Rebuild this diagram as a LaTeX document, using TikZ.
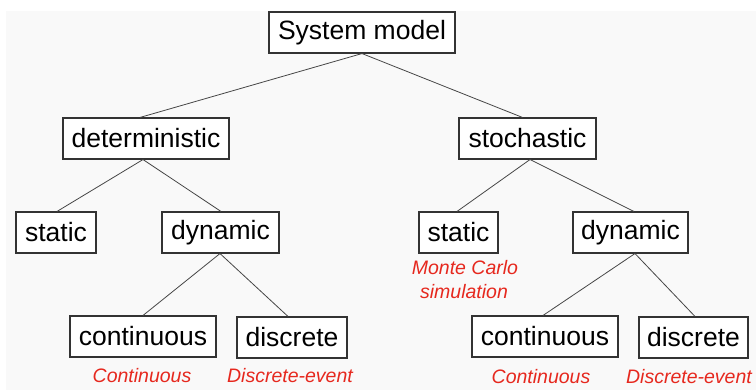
\documentclass[tikz,border=0pt]{standalone}
\usepackage{fontspec}
\setmainfont{Liberation Sans}
\definecolor{bgc}{RGB}{249,249,249}
\definecolor{redt}{RGB}{230,40,30}
\definecolor{linec}{RGB}{70,70,70}
\begin{document}
\begin{tikzpicture}[x=1pt,y=-1pt,
  box/.style={draw=black!80,line width=1.1pt,fill=white,minimum height=41pt,inner sep=0pt,font=\fontsize{26.5}{30}\selectfont},
  note/.style={text=redt,font=\fontsize{19.5}{24}\selectfont\itshape,align=center,inner sep=0pt},
  conn/.style={draw=linec,line width=0.8pt}]
\useasboundingbox (0,0) rectangle (756,390);
\fill[bgc] (6,11) rectangle (756,390);
\node[box,minimum width=186pt] (sm) at (362,32.5) {System model};
\node[box,minimum width=166pt] (det) at (146,138.5) {deterministic};
\node[box,minimum width=137pt] (sto) at (527.5,138.5) {stochastic};
\node[box,minimum width=80pt] (ls) at (56,232.5) {static};
\node[box,minimum width=117pt] (ld) at (220.5,232.5) {dynamic};
\node[box,minimum width=146pt] (lc) at (143,336.5) {continuous};
\node[box,minimum width=110pt] (lds) at (292,337.5) {discrete};
\node[box,minimum width=79pt] (rs) at (458.5,232.5) {static};
\node[box,minimum width=115pt] (rd) at (630.5,232.5) {dynamic};
\node[box,minimum width=146pt] (rc) at (545,336.5) {continuous};
\node[box,minimum width=109pt] (rds) at (693.5,337.5) {discrete};
\node[note] (n1) at (142,376) {Continuous};
\node[note] (n2) at (290,376) {Discrete-event};
\node[note] (n3) at (541,377) {Continuous};
\node[note] (n4) at (689,377) {Discrete-event};
\node[note] (n5) at (465,268) {Monte Carlo};
\node[note] (n6) at (464,292) {simulation};
\draw[conn] (sm.south) -- ([xshift=-6pt]det.north);
\draw[conn] (sm.south) -- ([xshift=-5pt]sto.north);
\draw[conn] ([xshift=-3pt]det.south) -- ([xshift=1pt]ls.north);
\draw[conn] ([xshift=-3pt]det.south) -- ([xshift=0.5pt]ld.north);
\draw[conn] ([xshift=-0.5pt]ld.south) -- (lc.north);
\draw[conn] ([xshift=-0.5pt]ld.south) -- ([xshift=-4pt]lds.north);
\draw[conn] ([xshift=2.5pt]sto.south) -- ([xshift=-1.5pt]rs.north);
\draw[conn] ([xshift=2.5pt]sto.south) -- ([xshift=3.5pt]rd.north);
\draw[conn] ([xshift=4.5pt]rd.south) -- ([xshift=-2pt]rc.north);
\draw[conn] ([xshift=4.5pt]rd.south) -- ([xshift=1.5pt]rds.north);
\end{tikzpicture}
\end{document}
